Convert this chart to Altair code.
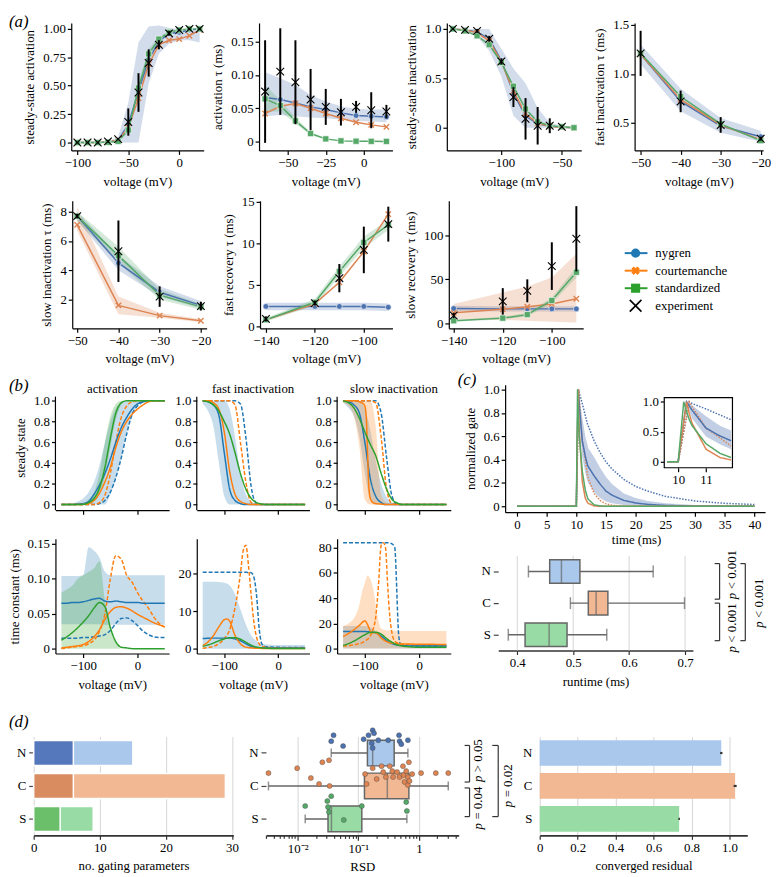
import altair as alt
import pandas as pd

FONT = "Liberation Serif"
FS = 13
BLUE, ORANGE, GREEN = "#4C72B0", "#DD8452", "#55A868"
TBLUE, TORANGE, TGREEN = "#1f77b4", "#ff7f0e", "#2ca02c"
MODELS = ["N", "C", "S"]
PASTEL = ["#a9c8ec", "#f1b893", "#98dba5"]
DARK = ["#5577bb", "#d98c60", "#6bbf6b"]
DEEP = [BLUE, ORANGE, GREEN]
XSHAPE = "M -1 -1 L 1 1 M -1 1 L 1 -1"

# ---------------- panel (a) data ----------------
A1_V = [-100, -90, -80, -70, -60, -50, -40, -30, -20, -10, 0, 10, 20]
A1_N = [0, 0, 0, 0.005, 0.02, 0.16, 0.45, 0.73, 0.89, 0.96, 0.97, 0.99, 1.0]
A1_C = [0, 0, 0, 0.005, 0.02, 0.13, 0.39, 0.69, 0.86, 0.90, 0.91, 0.94, 0.99]
A1_S = [0, 0, 0, 0.002, 0.01, 0.11, 0.48, 0.78, 0.91, 0.97, 0.99, 1.0, 1.0]
A1_E = [0, 0, 0, 0.01, 0.03, 0.18, 0.44, 0.70, 0.86, 0.96, 0.99, 1.0, 1.0]
A1_EERR = [0.005, 0.005, 0.005, 0.01, 0.01, 0.12, 0.17, 0.12, 0.04, 0.02, 0.01, 0.01, 0.01]
A1_NLO = [0, 0, 0, 0, 0, 0, 0, 0.52, 0.78, 0.87, 0.90, 0.90, 0.88]
A1_NHI = [0, 0, 0, 0.01, 0.05, 0.35, 0.88, 1.02, 1.03, 1.01, 1.0, 1.0, 1.0]
A1_SLO = [0, 0, 0, 0, 0.005, 0.09, 0.43, 0.74, 0.89, 0.96, 0.99, 1.0, 1.0]
A1_SHI = [0, 0, 0, 0.004, 0.015, 0.13, 0.53, 0.82, 0.93, 0.98, 0.99, 1.0, 1.0]

A2_V = [-65, -55, -45, -35, -25, -15, -5, 5, 15]
A2_N = [0.066, 0.063, 0.058, 0.052, 0.048, 0.043, 0.039, 0.038, 0.037]
A2_C = [0.042, 0.053, 0.057, 0.050, 0.042, 0.035, 0.029, 0.025, 0.022]
A2_S = [0.064, 0.054, 0.031, 0.012, 0.004, 0.001, 0.0005, 0.0003, 0.0002]
A2_E = [0.075, 0.105, 0.089, 0.063, 0.052, 0.044, 0.052, 0.047, 0.045]
A2_EERR = [0.077, 0.065, 0.063, 0.046, 0.027, 0.020, 0.009, 0.027, 0.010]
A2_NLO = [0.038, 0.040, 0.038, 0.036, 0.035, 0.033, 0.031, 0.030, 0.029]
A2_NHI = [0.104, 0.095, 0.085, 0.070, 0.060, 0.053, 0.049, 0.048, 0.048]
A2_SLO = [0.045, 0.045, 0.027, 0.010, 0.003, 0.0008, 0.0004, 0.0002, 0.0001]
A2_SHI = [0.085, 0.062, 0.036, 0.014, 0.005, 0.0012, 0.0006, 0.0004, 0.0003]

A3_V = [-140, -130, -120, -110, -100, -90, -80, -70, -60, -50, -40]
A3_N = [1.0, 0.99, 0.97, 0.90, 0.68, 0.35, 0.12, 0.04, 0.015, 0.005, 0.0]
A3_C = [1.0, 0.99, 0.96, 0.88, 0.67, 0.37, 0.14, 0.045, 0.015, 0.005, 0.0]
A3_S = [1.0, 0.98, 0.93, 0.84, 0.66, 0.42, 0.19, 0.06, 0.02, 0.01, 0.0]
A3_E = [1.0, 0.99, 0.98, 0.90, 0.67, 0.31, 0.09, 0.02, 0.02, 0.01, None]
A3_EERR = [0.01, 0.01, 0.02, 0.03, 0.03, 0.10, 0.21, 0.19, 0.075, 0.01, None]
A3_NLO = [1.0, 0.98, 0.92, 0.78, 0.52, 0.12, 0.0, 0.0, 0.0, 0.0, 0.0]
A3_NHI = [1.0, 1.0, 1.0, 1.0, 0.80, 0.60, 0.45, 0.20, 0.05, 0.02, 0.01]

A4_V = [-50, -40, -30, -20]
A4_N = [1.20, 0.72, 0.47, 0.36]
A4_C = [1.20, 0.74, 0.48, 0.33]
A4_S = [1.21, 0.77, 0.49, 0.32]
A4_E = [1.21, 0.72, 0.48, 0.34]
A4_EERR = [0.23, 0.11, 0.08, 0.02]
A4_NLO = [1.10, 0.62, 0.40, 0.31]
A4_NHI = [1.30, 0.85, 0.55, 0.42]

B1_V = [-50, -40, -30, -20]
B1_N = [7.7, 4.5, 2.5, 1.6]
B1_C = [7.1, 1.6, 0.9, 0.55]
B1_S = [7.7, 5.0, 2.3, 1.5]
B1_E = [7.7, 5.3, 2.2, 1.55]
B1_EERR = [0.15, 2.1, 0.7, 0.3]
B1_NLO = [7.4, 4.0, 2.2, 1.4]
B1_NHI = [8.0, 5.0, 2.9, 1.9]
B1_CLO = [6.7, 1.0, 0.75, 0.45]
B1_CHI = [8.3, 2.2, 1.1, 0.65]
B1_SLO = [7.4, 4.5, 2.0, 1.3]
B1_SHI = [8.0, 5.6, 2.7, 1.7]

B2_V = [-140, -120, -110, -100, -90]
B2_N = [2.4, 2.4, 2.4, 2.4, 2.3]
B2_C = [0.8, 2.7, 5.3, 9.0, 13.5]
B2_S = [0.8, 2.9, 6.6, 10.1, 12.2]
B2_E = [0.9, 2.8, 5.8, 9.2, 12.3]
B2_EERR = [0.3, 0.3, 1.7, 2.8, 2.1]
B2_NLO = [1.95, 1.95, 1.95, 1.95, 1.85]
B2_NHI = [2.85, 2.85, 2.85, 2.85, 2.75]
B2_SLO = [0.6, 2.5, 6.0, 9.4, 11.6]
B2_SHI = [1.0, 3.3, 7.2, 10.8, 12.8]

B3_V = [-140, -120, -110, -100, -90]
B3_N = [17, 16.5, 16.5, 16.5, 16.5]
B3_C = [12, 16, 19, 22, 28]
B3_S = [3, 6, 10, 26, 58]
B3_E = [9, 25, 37, 65, 96]
B3_EERR = [3, 15, 13, 27, 37]
B3_NLO = [14, 13.5, 13.5, 13.5, 13.5]
B3_NHI = [20, 19.5, 19.5, 19.5, 19.5]
B3_CLO = [5, 4, 3, 2, 1]
B3_CHI = [22, 35, 42, 52, 79]
B3_SLO = [2, 4.5, 8, 23, 52]
B3_SHI = [4, 7.5, 12, 29, 64]

LEG_LABELS = ["nygren", "courtemanche", "standardized", "experiment"]

# ---------------- panel (b) data ----------------
V10 = [-140, -130, -120, -110, -100, -90, -80, -70, -60, -50, -40, -30, -20, -10, 0, 10, 20, 30, 40, 50]
SSA_N = [0, 0, 0, 0.005, 0.01, 0.03, 0.10, 0.19, 0.30, 0.44, 0.60, 0.74, 0.84, 0.92, 0.97, 0.99, 1, 1, 1, 1]
SSA_ND = [0, 0, 0, 0, 0, 0, 0, 0.01, 0.04, 0.12, 0.26, 0.45, 0.68, 0.87, 0.95, 0.99, 1, 1, 1, 1]
SSA_C = [0, 0, 0, 0, 0.003, 0.01, 0.04, 0.11, 0.22, 0.36, 0.55, 0.70, 0.80, 0.87, 0.92, 0.96, 0.99, 1, 1, 1]
SSA_CD = [0, 0, 0, 0, 0, 0, 0, 0.02, 0.09, 0.30, 0.60, 0.84, 0.95, 0.99, 1, 1, 1, 1, 1, 1]
SSA_S = [0, 0, 0, 0, 0.003, 0.02, 0.06, 0.16, 0.36, 0.64, 0.88, 0.98, 1, 1, 1, 1, 1, 1, 1, 1]
SSA_NLO = [0, 0, 0, 0, 0, 0, 0, 0, 0, 0.10, 0.25, 0.45, 0.70, 0.85, 0.95, 0.99, 1, 1, 1, 1]
SSA_NHI = [0, 0.005, 0.01, 0.03, 0.06, 0.12, 0.22, 0.38, 0.60, 0.80, 0.93, 0.98, 1, 1, 1, 1, 1, 1, 1, 1]
SSA_SLO = [0, 0, 0, 0, 0, 0.01, 0.03, 0.10, 0.27, 0.55, 0.82, 0.96, 1, 1, 1, 1, 1, 1, 1, 1]
SSA_SHI = [0, 0, 0, 0, 0.01, 0.05, 0.12, 0.30, 0.60, 0.85, 0.97, 1, 1, 1, 1, 1, 1, 1, 1, 1]

SSF_N = [1, 0.99, 0.96, 0.86, 0.50, 0.15, 0.04, 0.01, 0, 0, 0, 0, 0, 0, 0, 0, 0, 0, 0, 0]
SSF_ND = [1, 1, 1, 1, 1, 1, 1, 0.97, 0.65, 0.17, 0.01, 0, 0, 0, 0, 0, 0, 0, 0, 0]
SSF_C = [1, 1, 0.98, 0.92, 0.70, 0.32, 0.10, 0.03, 0.01, 0, 0, 0, 0, 0, 0, 0, 0, 0, 0, 0]
SSF_CD = [1, 1, 1, 1, 1, 1, 0.96, 0.60, 0.22, 0.02, 0, 0, 0, 0, 0, 0, 0, 0, 0, 0]
SSF_S = [1, 0.99, 0.96, 0.90, 0.80, 0.68, 0.50, 0.30, 0.15, 0.06, 0.02, 0.005, 0, 0, 0, 0, 0, 0, 0, 0]
SSF_NLO = [0.97, 0.90, 0.75, 0.40, 0.08, 0, 0, 0, 0, 0, 0, 0, 0, 0, 0, 0, 0, 0, 0, 0]
SSF_NHI = [1, 1, 1, 1, 1, 0.92, 0.65, 0.30, 0.10, 0.03, 0, 0, 0, 0, 0, 0, 0, 0, 0, 0]

SSS_N = [1, 0.99, 0.96, 0.88, 0.60, 0.25, 0.08, 0.02, 0, 0, 0, 0, 0, 0, 0, 0, 0, 0, 0, 0]
SSS_ND = [1, 1, 1, 1, 1, 1, 1, 0.88, 0.45, 0.08, 0, 0, 0, 0, 0, 0, 0, 0, 0, 0]
SSS_CV = [-140, -130, -120, -110, -105, -100, -97, -95, -93, -90, -85, -80, -70, -60, -50, 50]
SSS_C = [1, 1, 1, 0.99, 0.98, 0.95, 0.80, 0.50, 0.20, 0.06, 0.02, 0.01, 0.005, 0, 0, 0]
SSS_CD = [1, 1, 1, 1, 1, 1, 0.98, 0.65, 0.15, 0.01, 0, 0, 0, 0, 0, 0, 0, 0, 0, 0]
SSS_S = [1, 0.98, 0.93, 0.83, 0.70, 0.58, 0.47, 0.30, 0.15, 0.05, 0.015, 0, 0, 0, 0, 0, 0, 0, 0, 0]
SSS_NLO = [0.98, 0.93, 0.85, 0.65, 0.30, 0.05, 0, 0, 0, 0, 0, 0, 0, 0, 0, 0, 0, 0, 0, 0]
SSS_NHI = [1, 1, 1, 1, 0.92, 0.72, 0.42, 0.20, 0.07, 0.02, 0, 0, 0, 0, 0, 0, 0, 0, 0, 0]
SSS_CLO = [0.98, 0.95, 0.85, 0.55, 0.05, 0, 0, 0, 0, 0, 0, 0, 0, 0, 0, 0, 0, 0, 0, 0]
SSS_CHI = [1, 1, 1, 1, 1, 1, 0.75, 0.10, 0.02, 0, 0, 0, 0, 0, 0, 0, 0, 0, 0, 0]

TA_N = [0.065, 0.065, 0.066, 0.066, 0.067, 0.069, 0.071, 0.072, 0.068, 0.067, 0.068, 0.067, 0.066, 0.066, 0.066, 0.065, 0.065, 0.065, 0.065, 0.065]
TA_ND = [0.015, 0.015, 0.015, 0.015, 0.016, 0.016, 0.017, 0.018, 0.020, 0.026, 0.036, 0.043, 0.044, 0.040, 0.033, 0.025, 0.020, 0.017, 0.016, 0.016]
TA_C = [0.001, 0.002, 0.003, 0.004, 0.006, 0.010, 0.017, 0.027, 0.042, 0.053, 0.059, 0.060, 0.058, 0.054, 0.049, 0.045, 0.041, 0.037, 0.034, 0.031]
TA_CD = [0.0, 0.001, 0.002, 0.003, 0.004, 0.007, 0.012, 0.025, 0.050, 0.100, 0.133, 0.128, 0.105, 0.095, 0.080, 0.068, 0.058, 0.045, 0.036, 0.031]
TA_S = [0.012, 0.017, 0.023, 0.030, 0.038, 0.047, 0.058, 0.066, 0.060, 0.030, 0.010, 0.002, 0.001, 0, 0, 0, 0, 0, 0, 0]
TA_NLO = [0.035, 0.035, 0.035, 0.035, 0.035, 0.035, 0.035, 0.035, 0.034, 0.034, 0.034, 0.034, 0.034, 0.034, 0.034, 0.034, 0.034, 0.034, 0.034, 0.034]
TA_NHI = [0.104, 0.104, 0.104, 0.104, 0.105, 0.145, 0.140, 0.130, 0.110, 0.105, 0.105, 0.105, 0.105, 0.105, 0.105, 0.105, 0.105, 0.105, 0.105, 0.105]
TA_SLO = [0, 0, 0, 0, 0, 0, 0, 0, 0, 0, 0, 0, 0, 0, 0, 0, 0, 0, 0, 0]
TA_SHI = [0.080, 0.085, 0.090, 0.100, 0.105, 0.110, 0.115, 0.125, 0.070, 0.030, 0.010, 0, 0, 0, 0, 0, 0, 0, 0, 0]

TF_NDV = [-140, -120, -100, -80, -60, -50, -45, -40, -35, -30, -25, -20, 0, 50]
TF_ND = [20.3, 20.3, 20.3, 20.3, 20.3, 20.2, 19.0, 14.0, 5.0, 1.2, 0.6, 0.45, 0.35, 0.3]
TF_CDV = [-140, -130, -120, -110, -100, -90, -80, -75, -70, -65, -60, -55, -50, -45, -40, -35, -30, -20, 0, 50]
TF_CD = [0.1, 0.3, 0.6, 1.3, 2.7, 5.0, 11.0, 15.0, 20.0, 26.0, 27.5, 22.0, 14.0, 7.0, 3.0, 1.2, 0.6, 0.3, 0.2, 0.2]
TF_CV = [-140, -130, -120, -110, -100, -95, -90, -80, -70, -60, -50, -40, -20, 50]
TF_C = [0.8, 1.8, 3.5, 5.8, 7.7, 7.9, 7.3, 3.5, 1.3, 0.4, 0.2, 0.1, 0.05, 0.05]
TF_N = [2.7, 2.75, 2.8, 2.8, 2.8, 2.8, 2.6, 2.1, 1.3, 0.6, 0.3, 0.2, 0.2, 0.2, 0.2, 0.2, 0.2, 0.2, 0.2, 0.2]
TF_S = [0.6, 1.0, 1.5, 2.1, 2.6, 2.9, 2.9, 2.5, 1.7, 0.9, 0.4, 0.2, 0.1, 0.05, 0.05, 0.05, 0.05, 0.05, 0.05, 0.05]
TF_NLO = [0, 0, 0, 0, 0, 0, 0, 0, 0, 0, 0, 0, 0, 0, 0, 0, 0, 0, 0, 0]
TF_NHI = [17.8, 17.8, 17.8, 17.7, 17.5, 16.8, 14.5, 10.5, 6.5, 3.5, 2.0, 1.3, 1.1, 1.0, 1.0, 1.0, 1.0, 1.0, 1.0, 1.0]

TS_NDV = [-140, -100, -60, -50, -45, -42, -40, -38, -35, -30, 0, 50]
TS_ND = [84, 84, 84, 83, 80, 55, 30, 12, 4, 2.5, 2, 2]
TS_CDV = [-140, -120, -100, -90, -85, -80, -75, -70, -66, -62, -58, -55, -50, -45, -40, -30, 0, 50]
TS_CD = [2, 3, 6, 10, 15, 25, 50, 82, 84, 80, 50, 30, 12, 6, 4.5, 3.5, 3, 3]
TS_CV = [-140, -130, -120, -110, -100, -95, -90, -85, -80, -75, -70, -60, -50, -40, 0, 50]
TS_C = [9.6, 12, 15, 18.5, 22, 19, 14, 12.5, 12.5, 11, 8.5, 5.5, 4.3, 3.8, 3.5, 3.3]
TS_N = [13.5, 13.5, 13.5, 13.5, 13.5, 13.2, 12.5, 10, 6.5, 4, 2.8, 2.3, 2.1, 2, 2, 2, 2, 2, 2, 2]
TS_S = [2.5, 4, 6, 8.5, 11, 12.8, 13, 11.5, 8, 5, 3, 2, 1.5, 1.2, 1, 1, 1, 1, 1, 1]
TS_NLO = [0, 0, 0, 0, 0, 0, 0, 0, 0, 0, 0, 0, 0, 0, 0, 0, 0, 0, 0, 0]
TS_NHI = [18, 18, 18, 18, 18, 17, 14, 10, 6, 4, 3, 2.8, 2.6, 2.5, 2.5, 2.5, 2.5, 2.5, 2.5, 2.5]
TS_CBV = [-140, -130, -120, -110, -105, -100, -95, -90, -85, -80, -75, -70, -60, -40, 0, 50]
TS_CLO = [0, 0, 0, 0, 0, 0, 0, 0, 0, 0, 0, 0, 0, 0, 0, 0]
TS_CHI = [18, 20, 24, 35, 45, 52, 58, 55, 48, 35, 22, 16, 14.5, 14, 14, 14]

BT_YDOM = [-0.054, 1.155]      # steady-state panels (scale domain)
BT_YLINE = [-0.054, 1.04]      # extent of the drawn y axis line
B_XDOM = [-151, 58]

# ---------------- panel (c) data ----------------
T = [0, 9.6, 10.0, 10.2, 10.3, 10.4, 10.5, 11, 11.5, 11.9, 12, 13, 14, 15, 16, 18, 20, 22, 25, 30, 35, 40]
G_N = [0, 0, 0, 0.67, 1.0, 0.93, 0.86, 0.56, 0.43, 0.35, 0.34, 0.26, 0.19, 0.13, 0.095, 0.05, 0.028, 0.016, 0.007, 0.002, 0.001, 0]
G_NLO = [0, 0, 0, 0.67, 0.98, 0.85, 0.72, 0.42, 0.29, 0.21, 0.20, 0.12, 0.07, 0.04, 0.025, 0.01, 0.004, 0.001, 0, 0, 0, 0]
G_NHI = [0, 0, 0, 0.67, 1.0, 0.98, 0.94, 0.76, 0.60, 0.52, 0.50, 0.42, 0.33, 0.25, 0.19, 0.11, 0.07, 0.045, 0.025, 0.01, 0.004, 0.002]
G_C = [0, 0, 0, 0.67, 1.0, 0.80, 0.64, 0.21, 0.07, 0.03, 0.025, 0.003, 0, 0, 0, 0, 0, 0, 0, 0, 0, 0]
G_S = [0, 0, 0, 1.0, 0.84, 0.70, 0.60, 0.30, 0.14, 0.07, 0.06, 0.012, 0.003, 0, 0, 0, 0, 0, 0, 0, 0, 0]
G_ND = [0, 0, 0, 0.5, 0.75, 1.0, 0.97, 0.88, 0.78, 0.70, 0.69, 0.56, 0.46, 0.38, 0.32, 0.23, 0.17, 0.13, 0.085, 0.045, 0.025, 0.015]
G_CD = [0, 0, 0, 0.5, 0.75, 1.0, 0.92, 0.56, 0.40, 0.26, 0.24, 0.11, 0.05, 0.02, 0.008, 0.002, 0, 0, 0, 0, 0, 0]
C_XTICKS = [0, 5, 10, 15, 20, 25, 30, 35, 40]
C_YTICKS = [0, 0.2, 0.4, 0.6, 0.8, 1.0]
INSET_T = [9.5, 11.95]
INSET_Y = [-0.1, 1.07]
INSET_XTICKS = [10, 11]
INSET_YTICKS = [0, 0.5, 1.0]

RT_WLO = [0.420, 0.495, 0.384]
RT_Q1 = [0.458, 0.527, 0.414]
RT_MED = [0.479, 0.541, 0.457]
RT_Q3 = [0.512, 0.562, 0.489]
RT_WHI = [0.643, 0.699, 0.560]
RT_TICKS = [0.4, 0.5, 0.6, 0.7]

# ---------------- panel (d) data ----------------
GP_TOTAL = [15, 29, 9]
GP_PART = [6, 6, 4]
GP_TICKS = [0, 10, 20, 30]

RSD_N = [0.0357, 0.039, 0.056, 0.122, 0.147, 0.166, 0.172, 0.172, 0.181, 0.213, 0.31, 0.468, 0.478, 0.51, 0.655]
RSD_N_OFF = [1, -5, 6, -1, -5, 3, -10, 8, -7, 0, 0, -5, 1, 4, 0]
RSD_C = [0.0033, 0.0098, 0.0165, 0.0225, 0.0255, 0.0328, 0.0336, 0.129, 0.137, 0.172, 0.20, 0.241, 0.257, 0.284,
         0.329, 0.363, 0.373, 0.434, 0.478, 0.543, 0.556, 0.578, 0.615, 0.655, 0.655, 0.68, 0.696, 0.77, 1.08, 1.89, 3.03]
RSD_C_OFF = [0, -5, 5, 11, -11, -13, 13, 1, 11, -5, 6, -7, -1, 4, -7, -2, 4, -1, 4, -7, 2, 9, -2, 4, 12, -11, 8, 1, 0, 0, 0]
RSD_S = [0.0133, 0.0308, 0.0316, 0.0327, 0.0357, 0.0575, 0.114, 0.615, 0.63]
RSD_S_OFF = [0, -5, 1, 6, -10, 14, 0, -4, 5]
RSD_WLO = [0.0357, 0.0033, 0.0133]
RSD_Q1 = [0.141, 0.126, 0.0316]
RSD_MED = [0.172, 0.30, 0.036]
RSD_Q3 = [0.389, 0.68, 0.114]
RSD_WHI = [0.655, 3.03, 0.63]
RSD_TICKS = [0.003, 0.004, 0.005, 0.006, 0.007, 0.008, 0.009, 0.01, 0.02, 0.03, 0.04, 0.05, 0.06, 0.07, 0.08, 0.09,
             0.1, 0.2, 0.3, 0.4, 0.5, 0.6, 0.7, 0.8, 0.9, 1, 2, 3, 4]

RES = [0.957, 1.03, 0.735]
RES_ERR = [0.006, 0.008, 0.004]
RES_TICKS = [0, 0.2, 0.4, 0.6, 0.8, 1.0]

SP_DF = pd.DataFrame({"k": [0]})
ANN = pd.DataFrame({"k": [0]})
GRID = "#d6d6d6"


def lab0(dec):
    return f"datum.value == 0 ? '0' : format(datum.value, '.{dec}f')"


def letter(txt, dx, dy):
    return alt.Chart(pd.DataFrame({"t": [txt]})).mark_text(
        fontSize=17, fontStyle="italic", align="left", baseline="middle", font=FONT, color="black"
    ).encode(x=alt.value(dx), y=alt.value(dy), text="t:N")


def a_panel(V, N, C, S, E, EERR, bands, xdom, xvals, ydom, yvals, yexpr, ytitle, w, h, let=None):
    xs = alt.Scale(domain=xdom, nice=False, zero=False)
    ys = alt.Scale(domain=ydom, nice=False, zero=False)
    xa = alt.Axis(values=xvals, format="d", title="voltage (mV)")
    ya = alt.Axis(values=yvals, labelExpr=yexpr, title=ytitle)
    X = alt.X("v:Q", scale=xs, axis=xa)

    def Y(f):
        return alt.Y(f + ":Q", scale=ys, axis=ya)

    layers = []
    for lo, hi, col in bands:
        d = pd.DataFrame({"v": V, "lo": lo, "hi": hi})
        layers.append(alt.Chart(d).mark_area(color=col, opacity=0.25).encode(x=X, y=Y("lo"), y2="hi:Q"))
    for vals, col, kind in [(N, BLUE, "circle"), (C, ORANGE, "x"), (S, GREEN, "square")]:
        d = pd.DataFrame({"v": V, "y": vals})
        layers.append(alt.Chart(d).mark_line(color=col, strokeWidth=1.5).encode(x=X, y=Y("y")))
        if kind == "x":
            pm = alt.Chart(d).mark_point(shape=XSHAPE, filled=False, stroke=col, strokeWidth=1.4, size=30, opacity=1)
        else:
            pm = alt.Chart(d).mark_point(shape=kind, filled=True, fill=col, stroke="white", strokeWidth=0.6,
                                         size=34 if kind == "circle" else 38, opacity=1)
        layers.append(pm.encode(x=X, y=Y("y")))
    lo = [None if e is None else e - r for e, r in zip(E, EERR)]
    hi = [None if e is None else e + r for e, r in zip(E, EERR)]
    de = pd.DataFrame({"v": V, "y": E, "lo": lo, "hi": hi})
    layers.append(alt.Chart(de).mark_rule(color="black", strokeWidth=2).encode(x=X, y=Y("lo"), y2="hi:Q"))
    layers.append(alt.Chart(de).mark_point(shape=XSHAPE, filled=False, stroke="black", strokeWidth=1.1,
                                           size=60, opacity=1).encode(x=X, y=Y("y")))
    if let:
        layers.append(letter(*let))
    return alt.layer(*layers).properties(width=w, height=h)


def legend_chart():
    d = pd.DataFrame({"lab": LEG_LABELS})
    Yl = alt.Y("lab:N", axis=None, scale=alt.Scale(domain=LEG_LABELS, range=[44, 115], paddingInner=0, paddingOuter=0))
    base = alt.Chart(d)
    layers = []
    for lab, col in zip(LEG_LABELS[:3], [TBLUE, TORANGE, TGREEN]):
        layers.append(base.transform_filter(alt.datum.lab == lab).mark_rule(strokeWidth=2, color=col).encode(
            x=alt.value(6), x2=alt.value(29), y=Yl))
    specs = [("nygren", dict(shape="circle", filled=True, fill=TBLUE, size=85)),
             ("courtemanche", dict(shape="cross", angle=45, filled=True, fill=TORANGE, size=75)),
             ("standardized", dict(shape="square", filled=True, fill=TGREEN, size=85)),
             ("experiment", dict(shape=XSHAPE, filled=False, stroke="black", strokeWidth=1.6, size=140))]
    for lab, kw in specs:
        layers.append(base.transform_filter(alt.datum.lab == lab).mark_point(opacity=1, **kw).encode(
            x=alt.value(17), y=Yl))
    layers.append(base.mark_text(align="left", baseline="middle", fontSize=FS, font=FONT, color="black").encode(
        x=alt.value(37), y=Yl, text="lab:N"))
    return alt.layer(*layers).properties(width=140, height=129)


def b_panel(lines, bands, ydom, yvals, yexpr, ytitle, show_x, w, h, title=None, let=None, yline=None):
    xs = alt.Scale(domain=B_XDOM, nice=False, zero=False)
    if show_x:
        xa = alt.Axis(values=[-100, 0], format="d", title="voltage (mV)")
    else:
        xa = alt.Axis(values=[-100, 0], labels=False, title=None)
    X = alt.X("v:Q", scale=xs, axis=xa)
    ys = alt.Scale(domain=ydom, nice=False, zero=False)
    if yline is not None:
        ya = alt.Axis(values=yvals, labelExpr=yexpr, title=ytitle, domain=False)
    else:
        ya = alt.Axis(values=yvals, labelExpr=yexpr, title=ytitle)
    layers = []
    for col, V, lo, hi in bands:
        d = pd.DataFrame({"v": V, "lo": lo, "hi": hi})
        layers.append(alt.Chart(d).mark_area(color=col, opacity=0.25, interpolate="monotone", clip=True).encode(
            x=X, y=alt.Y("lo:Q", scale=ys, axis=ya), y2="hi:Q"))
    rows = []
    for key, col, dash, V, vals in lines:
        for v, y in zip(V, vals):
            rows.append({"v": v, "y": y, "k": key, "d": dash})
    df = pd.DataFrame(rows)
    keys = [l[0] for l in lines]
    cols = [l[1] for l in lines]
    layers.append(alt.Chart(df).mark_line(strokeWidth=1.5, interpolate="monotone", clip=True).encode(
        x=X, y=alt.Y("y:Q", scale=ys, axis=ya),
        color=alt.Color("k:N", scale=alt.Scale(domain=keys, range=cols), legend=None),
        strokeDash=alt.StrokeDash("d:N", scale=alt.Scale(domain=["solid", "dash"], range=[[1, 0], [4, 2]]), legend=None),
        detail="k:N"))
    if yline is not None:
        ld = pd.DataFrame({"y0": [yline[0]], "y1": [yline[1]]})
        layers.append(alt.Chart(ld).mark_rule(color="black", strokeWidth=1.2).encode(
            x=alt.value(0), y=alt.Y("y0:Q", scale=ys, axis=ya), y2="y1:Q"))
    if title:
        layers.append(alt.Chart(pd.DataFrame({"t": [title]})).mark_text(
            fontSize=FS, font=FONT, color="black", align="center", baseline="middle").encode(
            x=alt.value(w / 2), y=alt.value(4), text="t:N"))
    if let:
        layers.append(letter(*let))
    return alt.layer(*layers).properties(width=w, height=h)


def c_main():
    xs = alt.Scale(domain=[-2, 41.8], nice=False, zero=False)
    ys = alt.Scale(domain=[-0.051, 1.042], nice=False, zero=False)
    xa = alt.Axis(values=C_XTICKS, format="d", title=None)
    ya = alt.Axis(values=C_YTICKS, labelExpr=lab0(1), title="normalized gate")
    band_df = pd.DataFrame({"t": T, "lo": G_NLO, "hi": G_NHI})
    rows = []
    for key, vals, dash in [("Nd", G_ND, "dot"), ("Cd", G_CD, "dot"), ("N", G_N, "solid"), ("C", G_C, "solid"), ("S", G_S, "solid")]:
        for t, y in zip(T, vals):
            rows.append({"t": t, "y": y, "k": key, "d": dash})
    ldf = pd.DataFrame(rows)
    color = alt.Color("k:N", scale=alt.Scale(domain=["Nd", "Cd", "N", "C", "S"], range=[BLUE, ORANGE, BLUE, ORANGE, GREEN]), legend=None)
    dashc = alt.StrokeDash("d:N", scale=alt.Scale(domain=["solid", "dot"], range=[[1, 0], [1.5, 1.5]]), legend=None)
    band = alt.Chart(band_df).mark_area(color=BLUE, opacity=0.35).encode(
        x=alt.X("t:Q", scale=xs, axis=xa), y=alt.Y("lo:Q", scale=ys, axis=ya), y2="hi:Q")
    lines = alt.Chart(ldf).mark_line(strokeWidth=1.5).encode(
        x=alt.X("t:Q", scale=xs, axis=xa), y=alt.Y("y:Q", scale=ys, axis=ya), color=color, strokeDash=dashc, detail="k:N")
    main = alt.layer(band, lines, letter("(c)", -48, -5))

    ixs = alt.Scale(domain=INSET_T, range=[161, 230], nice=False, zero=False)
    iys = alt.Scale(domain=INSET_Y, range=[84, 13], nice=False, zero=False)
    ixa = alt.Axis(values=INSET_XTICKS, format="d", title=None, orient="bottom", offset=-45, domain=False)
    iya = alt.Axis(values=INSET_YTICKS, labelExpr=lab0(1), title=None, orient="left", offset=-161, domain=False)
    fr = pd.DataFrame({"x0": [INSET_T[0]], "x1": [INSET_T[1]], "y0": [INSET_Y[0]], "y1": [INSET_Y[1]]})
    frame = alt.Chart(fr).mark_rect(fill="white", stroke="black", strokeWidth=1.2).encode(
        x=alt.X("x0:Q", scale=ixs, axis=ixa), x2="x1:Q", y=alt.Y("y0:Q", scale=iys, axis=iya), y2="y1:Q")
    filt = (alt.datum.t >= 9.6) & (alt.datum.t <= 11.9)
    iband = alt.Chart(band_df).transform_filter(filt).mark_area(color=BLUE, opacity=0.35).encode(
        x=alt.X("t:Q", scale=ixs, axis=ixa), y=alt.Y("lo:Q", scale=iys, axis=iya), y2="hi:Q")
    ilines = alt.Chart(ldf).transform_filter(filt).mark_line(strokeWidth=1.5).encode(
        x=alt.X("t:Q", scale=ixs, axis=ixa), y=alt.Y("y:Q", scale=iys, axis=iya), color=color, strokeDash=dashc, detail="k:N")
    inset = alt.layer(frame, iband, ilines)
    return alt.layer(main, inset).resolve_scale(x="independent", y="independent").properties(width=263, height=129)


def bracket(x, y0, y1, tick):
    l = []
    l.append(alt.Chart(ANN).mark_rule(color="#333", strokeWidth=1.2).encode(
        x=alt.value(x), y=alt.value(y0), y2=alt.value(y1)))
    l.append(alt.Chart(ANN).mark_rule(color="#333", strokeWidth=1.2).encode(
        x=alt.value(x - tick), x2=alt.value(x), y=alt.value(y0)))
    l.append(alt.Chart(ANN).mark_rule(color="#333", strokeWidth=1.2).encode(
        x=alt.value(x - tick), x2=alt.value(x), y=alt.value(y1)))
    return l


def ptext(rest, x, yc, wrest, g=3.5):
    # italic "p" followed (upwards) by the rest of the label, rotated 270 degrees
    wp = 6.5
    total = wp + g + wrest
    pivot = yc + total / 2 - wp
    a = alt.Chart(ANN).mark_text(text="p", fontStyle="italic", angle=270, align="right", baseline="middle",
                                 fontSize=FS, font=FONT, color="black").encode(x=alt.value(x), y=alt.value(pivot))
    b = alt.Chart(ANN).mark_text(text=rest, angle=270, align="left", baseline="middle",
                                 fontSize=FS, font=FONT, color="black").encode(x=alt.value(x), y=alt.value(pivot - g))
    return [a, b]


def c_box():
    df = pd.DataFrame({"m": MODELS, "wlo": RT_WLO, "q1": RT_Q1, "med": RT_MED, "q3": RT_Q3, "whi": RT_WHI})
    xs = alt.Scale(domain=[0.366, 0.714], nice=False, zero=False)
    xa = alt.Axis(values=RT_TICKS, format=".1f", title="runtime (ms)",
                  domainColor="#333", domainWidth=1.6, tickColor="#333")
    ys = alt.Scale(domain=MODELS, range=[17, 113], paddingInner=0.25, paddingOuter=0.125)
    ya = alt.Axis(title=None, domain=False, tickColor="#444", tickSize=5, labelPadding=3)
    Y = alt.Y("m:N", scale=ys, axis=ya)
    base = alt.Chart(df)
    grid = alt.Chart(pd.DataFrame({"g": RT_TICKS})).mark_rule(color=GRID, strokeWidth=1).encode(
        x=alt.X("g:Q", scale=xs, axis=xa), y=alt.value(17), y2=alt.value(113))
    layers = [
        grid,
        base.mark_rule(color="#666", strokeWidth=1.5).encode(x=alt.X("wlo:Q", scale=xs, axis=xa), x2="whi:Q", y=Y),
        base.mark_bar(stroke="#666", strokeWidth=1.5).encode(
            x=alt.X("q1:Q", scale=xs, axis=xa), x2="q3:Q", y=Y,
            fill=alt.Fill("m:N", scale=alt.Scale(domain=MODELS, range=PASTEL), legend=None)),
        base.mark_tick(color="#666", thickness=1.5, size=24).encode(x=alt.X("med:Q", scale=xs, axis=xa), y=Y),
        base.mark_tick(color="#666", thickness=1.5, size=12).encode(x=alt.X("wlo:Q", scale=xs, axis=xa), y=Y),
        base.mark_tick(color="#666", thickness=1.5, size=12).encode(x=alt.X("whi:Q", scale=xs, axis=xa), y=Y),
    ]
    layers += bracket(224, 25, 61, 5) + bracket(224, 65, 103, 5) + bracket(250, 25, 103, 5)
    layers += ptext("< 0.001", 237, 36, 40) + ptext("< 0.001", 237, 90, 40) + ptext("< 0.001", 264, 65, 40)
    layers.append(alt.Chart(pd.DataFrame({"t": ["time (ms)"]})).mark_text(
        fontSize=FS, font=FONT, color="black", align="center", baseline="middle").encode(
        x=alt.value(140), y=alt.value(1), text="t:N"))
    return alt.layer(*layers).properties(width=197, height=113)


def d_bars():
    df = pd.DataFrame({"m": MODELS, "md": [m + "d" for m in MODELS], "tot": GP_TOTAL, "part": GP_PART})
    xs = alt.Scale(domain=[0, 30.2], nice=False, zero=True)
    xa = alt.Axis(values=GP_TICKS, format="d", title="no. gating parameters", grid=True, gridColor=GRID,
                  domainColor="#333", domainWidth=1.6, tickColor="#333")
    ys = alt.Scale(domain=MODELS, paddingInner=0.24, paddingOuter=0.12)
    ya = alt.Axis(title=None, domain=False, tickColor="#444", tickSize=5, labelPadding=3)
    fs = alt.Scale(domain=MODELS + [m + "d" for m in MODELS], range=PASTEL + DARK)
    base = alt.Chart(df)
    light = base.mark_bar(stroke="white", strokeWidth=1.5).encode(
        x=alt.X("tot:Q", scale=xs, axis=xa), y=alt.Y("m:N", scale=ys, axis=ya), fill=alt.Fill("m:N", scale=fs, legend=None))
    dark = base.mark_bar(stroke="white", strokeWidth=1.5).encode(
        x=alt.X("part:Q", scale=xs, axis=xa), y=alt.Y("m:N", scale=ys, axis=ya), fill=alt.Fill("md:N", scale=fs, legend=None))
    return alt.layer(light, dark, letter("(d)", -25, -15)).properties(width=202, height=100)


def d_rsd():
    st = pd.DataFrame({"m": MODELS, "wlo": RSD_WLO, "q1": RSD_Q1, "med": RSD_MED, "q3": RSD_Q3, "whi": RSD_WHI})
    major = "datum.value == 0.01 || datum.value == 0.1 || datum.value == 1"
    xs = alt.Scale(type="log", domain=[0.003, 4.5], nice=False)
    xa = alt.Axis(values=RSD_TICKS, title="RSD", grid=True, gridColor=GRID,
                  gridOpacity={"condition": {"test": major, "value": 1}, "value": 0},
                  tickSize={"condition": {"test": major, "value": 5}, "value": 3},
                  labelExpr="datum.value == 0.01 ? '10⁻²' : (datum.value == 0.1 ? '10⁻¹' : (datum.value == 1 ? '1' : ''))",
                  domainColor="#333", domainWidth=1.6, tickColor="#333")
    ys = alt.Scale(domain=MODELS, paddingInner=0.22, paddingOuter=0.11)
    ya = alt.Axis(title=None, domain=False, tickColor="#444", tickSize=5, labelPadding=3)
    Y = alt.Y("m:N", scale=ys, axis=ya)
    base = alt.Chart(st)
    layers = [
        base.mark_rule(color="#666", strokeWidth=1.5).encode(x=alt.X("wlo:Q", scale=xs, axis=xa), x2="whi:Q", y=Y),
        base.mark_tick(color="#666", thickness=1.5, size=9).encode(x=alt.X("wlo:Q", scale=xs, axis=xa), y=Y),
        base.mark_tick(color="#666", thickness=1.5, size=9).encode(x=alt.X("whi:Q", scale=xs, axis=xa), y=Y),
        base.mark_bar(stroke="#666", strokeWidth=1.5).encode(
            x=alt.X("q1:Q", scale=xs, axis=xa), x2="q3:Q", y=Y,
            fill=alt.Fill("m:N", scale=alt.Scale(domain=MODELS, range=PASTEL), legend=None)),
        base.mark_tick(color="#666", thickness=1.5, size=26).encode(x=alt.X("med:Q", scale=xs, axis=xa), y=Y),
    ]
    for m, vals, offs, col in [("N", RSD_N, RSD_N_OFF, BLUE), ("C", RSD_C, RSD_C_OFF, ORANGE), ("S", RSD_S, RSD_S_OFF, GREEN)]:
        pts = pd.DataFrame({"m": [m] * len(vals), "v": vals, "off": offs})
        layers.append(alt.Chart(pts).mark_circle(size=26, opacity=1, color=col, stroke="#444", strokeWidth=0.4).encode(
            x=alt.X("v:Q", scale=xs, axis=xa), y=Y, yOffset=alt.YOffset("off:Q", scale=None)))
    layers += bracket(206, 9, 46, 5) + bracket(206, 52, 81, 5) + bracket(235, 9, 81, 6)
    layers += ptext("> 0.05", 215, 24.5, 33) + ptext("= 0.04", 215, 72.5, 33) + ptext("= 0.02", 245, 50, 33)
    return alt.layer(*layers).properties(width=195, height=100)


def d_res():
    df = pd.DataFrame({"m": MODELS, "r": RES, "lo": [r - e for r, e in zip(RES, RES_ERR)],
                       "hi": [r + e for r, e in zip(RES, RES_ERR)]})
    xs = alt.Scale(domain=[0, 1.094], nice=False, zero=True)
    xa = alt.Axis(values=RES_TICKS, labelExpr=lab0(1), title="converged residual", grid=True, gridColor=GRID,
                  domainColor="#333", domainWidth=1.6, tickColor="#333")
    ys = alt.Scale(domain=MODELS, paddingInner=0.22, paddingOuter=0.11)
    ya = alt.Axis(title=None, domain=False, ticks=False, labelPadding=8)
    Y = alt.Y("m:N", scale=ys, axis=ya)
    base = alt.Chart(df)
    bars = base.mark_bar().encode(x=alt.X("r:Q", scale=xs, axis=xa), y=Y,
                                  fill=alt.Fill("m:N", scale=alt.Scale(domain=MODELS, range=PASTEL), legend=None))
    err = base.mark_rule(color="#333", strokeWidth=2.2).encode(x=alt.X("lo:Q", scale=xs, axis=xa), x2="hi:Q", y=Y)
    return alt.layer(bars, err).properties(width=210, height=100)


# ---------------- build panels ----------------
A1 = a_panel(A1_V, A1_N, A1_C, A1_S, A1_E, A1_EERR, [(A1_NLO, A1_NHI, BLUE), (A1_SLO, A1_SHI, GREEN)],
             [-106, 24], [-100, -50, 0], [-0.07, 1.052], [0, 0.25, 0.5, 0.75, 1.0], lab0(2),
             "steady-state activation", 134, 129, let=("(a)", -63, -1))
A2 = a_panel(A2_V, A2_N, A2_C, A2_S, A2_E, A2_EERR, [(A2_NLO, A2_NHI, BLUE), (A2_SLO, A2_SHI, GREEN)],
             [-69, 19], [-50, -25, 0], [-0.0134, 0.178], [0, 0.05, 0.10, 0.15], lab0(2),
             "activation τ (ms)", 135, 129)
A3 = a_panel(A3_V, A3_N, A3_C, A3_S, A3_E, A3_EERR, [(A3_NLO, A3_NHI, BLUE)],
             [-145, -34], [-100, -50], [-0.23, 1.06], [0, 0.5, 1.0], lab0(1),
             "steady-state inactivation", 136, 129)
A4 = a_panel(A4_V, A4_N, A4_C, A4_S, A4_E, A4_EERR, [(A4_NLO, A4_NHI, BLUE)],
             [-51.5, -19.4], [-50, -40, -30, -20], [0.22, 1.52], [0.5, 1.0, 1.5], lab0(1),
             "fast inactivation τ (ms)", 130, 129)
B1 = a_panel(B1_V, B1_N, B1_C, B1_S, B1_E, B1_EERR,
             [(B1_NLO, B1_NHI, BLUE), (B1_CLO, B1_CHI, ORANGE), (B1_SLO, B1_SHI, GREEN)],
             [-51.2, -18.6], [-50, -40, -30, -20], [0.03, 8.74], [2, 4, 6, 8], lab0(0),
             "slow inactivation τ (ms)", 136, 129)
B2 = a_panel(B2_V, B2_N, B2_C, B2_S, B2_E, B2_EERR, [(B2_NLO, B2_NHI, BLUE), (B2_SLO, B2_SHI, GREEN)],
             [-142.4, -88.3], [-140, -120, -100], [-0.24, 15.1], [0, 5, 10, 15], lab0(0),
             "fast recovery τ (ms)", 134, 129)
B3 = a_panel(B3_V, B3_N, B3_C, B3_S, B3_E, B3_EERR,
             [(B3_NLO, B3_NHI, BLUE), (B3_CLO, B3_CHI, ORANGE), (B3_SLO, B3_SHI, GREEN)],
             [-142, -87.2], [-140, -120, -100], [-5.6, 139], [0, 50, 100], lab0(0),
             "slow recovery τ (ms)", 136, 129)
LEG = legend_chart()

SS_TICKS = [0, 0.2, 0.4, 0.6, 0.8, 1.0]
bt1 = b_panel([("Nd", TBLUE, "dash", V10, SSA_ND), ("Cd", TORANGE, "dash", V10, SSA_CD),
               ("N", TBLUE, "solid", V10, SSA_N), ("C", TORANGE, "solid", V10, SSA_C), ("S", TGREEN, "solid", V10, SSA_S)],
              [(TBLUE, V10, SSA_NLO, SSA_NHI), (TGREEN, V10, SSA_SLO, SSA_SHI)],
              BT_YDOM, SS_TICKS, lab0(1), "steady state", False, 115, 127,
              title="activation", let=("(b)", -47, 1), yline=BT_YLINE)
bt2 = b_panel([("Nd", TBLUE, "dash", V10, SSF_ND), ("Cd", TORANGE, "dash", V10, SSF_CD),
               ("N", TBLUE, "solid", V10, SSF_N), ("C", TORANGE, "solid", V10, SSF_C), ("S", TGREEN, "solid", V10, SSF_S)],
              [(TBLUE, V10, SSF_NLO, SSF_NHI)],
              BT_YDOM, SS_TICKS, lab0(1), None, False, 114, 127,
              title="fast inactivation", yline=BT_YLINE)
bt3 = b_panel([("Nd", TBLUE, "dash", V10, SSS_ND), ("Cd", TORANGE, "dash", V10, SSS_CD),
               ("N", TBLUE, "solid", V10, SSS_N), ("C", TORANGE, "solid", SSS_CV, SSS_C), ("S", TGREEN, "solid", V10, SSS_S)],
              [(TBLUE, V10, SSS_NLO, SSS_NHI), (TORANGE, V10, SSS_CLO, SSS_CHI)],
              BT_YDOM, SS_TICKS, lab0(1), None, False, 115, 127,
              title="slow inactivation", yline=BT_YLINE)
bb1 = b_panel([("Nd", TBLUE, "dash", V10, TA_ND), ("Cd", TORANGE, "dash", V10, TA_CD),
               ("N", TBLUE, "solid", V10, TA_N), ("C", TORANGE, "solid", V10, TA_C), ("S", TGREEN, "solid", V10, TA_S)],
              [(TBLUE, V10, TA_NLO, TA_NHI), (TGREEN, V10, TA_SLO, TA_SHI)],
              [-0.007, 0.157], [0, 0.05, 0.10, 0.15], lab0(2), "time constant (ms)", True, 115, 116)
bb2 = b_panel([("Nd", TBLUE, "dash", TF_NDV, TF_ND), ("Cd", TORANGE, "dash", TF_CDV, TF_CD),
               ("N", TBLUE, "solid", V10, TF_N), ("C", TORANGE, "solid", TF_CV, TF_C), ("S", TGREEN, "solid", V10, TF_S)],
              [(TBLUE, V10, TF_NLO, TF_NHI)],
              [-1.3, 29.2], [0, 10, 20], lab0(0), None, True, 114, 116)
bb3 = b_panel([("Nd", TBLUE, "dash", TS_NDV, TS_ND), ("Cd", TORANGE, "dash", TS_CDV, TS_CD),
               ("N", TBLUE, "solid", V10, TS_N), ("C", TORANGE, "solid", TS_CV, TS_C), ("S", TGREEN, "solid", V10, TS_S)],
              [(TBLUE, V10, TS_NLO, TS_NHI), (TORANGE, TS_CBV, TS_CLO, TS_CHI)],
              [-3.9, 87], [0, 20, 40, 60, 80], lab0(0), None, True, 115, 116)

CM = c_main()
CB = c_box()
D1 = d_bars()
D2 = d_rsd()
D3 = d_res()

INDEP = dict(color="independent", fill="independent", strokeDash="independent")


def lead(w, K, H):
    # invisible left edge marker that fixes the vertical extent of a row
    return alt.Chart(SP_DF).mark_rule(opacity=0, strokeWidth=1, color="white").encode(
        x=alt.value(0), y=alt.value(-K), y2=alt.value(H)).properties(width=w, height=1)


def gap(w):
    return alt.Chart(SP_DF).mark_point(opacity=0, size=1).encode(
        x=alt.value(0), y=alt.value(0)).properties(width=w, height=1)


def row(parts, K, H):
    items = []
    for i, p in enumerate(parts):
        if isinstance(p, (int, float)):
            items.append(lead(p, K, H) if i == 0 else gap(p))
        else:
            items.append(p)
    return alt.hconcat(*items, spacing=0, bounds="flush").resolve_scale(**INDEP)


rows = [
    row([63, A1, 56, A2, 55, A3, 54, A4], 9, 172),
    row([64, B1, 54, B2, 57, B3, 36, LEG], 8, 171),
    row([47, bt1, 28, bt2, 28, bt3, 55, CM], 15, 151),
    row([47, bb1, 28, bb2, 28, bb3, 48, CB], 4, 176),
    row([25, D1, 33, D2, 82, D3], 24, 140),
]

chart = alt.vconcat(*rows, spacing=0, padding={"left": 0, "top": 0, "right": 0, "bottom": 0}).resolve_scale(
    **INDEP
).configure(
    font=FONT
).configure_axis(
    labelFont=FONT, titleFont=FONT, labelFontSize=FS, titleFontSize=FS, titleFontWeight="normal",
    labelColor="black", titleColor="black", domainColor="black", tickColor="black",
    domainWidth=1.2, tickWidth=1.2, tickSize=4, labelPadding=2, titlePadding=6,
    labelFlush=False, labelOverlap=False, grid=False
).configure_view(strokeWidth=0).configure_title(font=FONT, fontSize=FS, fontWeight="normal", color="black")

chart.save("out.html", embed_options={"renderer": "svg", "actions": False})
